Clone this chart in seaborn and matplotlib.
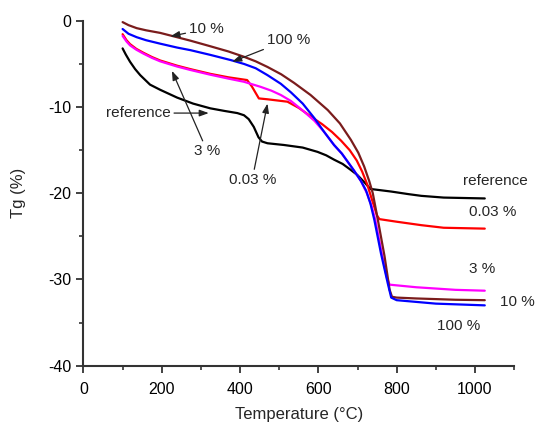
import matplotlib
matplotlib.use("Agg")
import matplotlib.pyplot as plt
from matplotlib.ticker import MultipleLocator
import pandas as pd
import seaborn as sns

# curves: temperature (°C) and Tg (%)
ref_t = [100, 108, 119, 132, 145, 170, 196, 239, 280, 324, 360, 393, 410, 422, 435, 447, 456, 470, 512, 560, 598, 620, 640, 662, 683, 700, 717, 733, 786, 830, 863, 920, 1025]
ref_v = [-3.2, -3.9, -4.75, -5.6, -6.3, -7.4, -8.0, -8.9, -9.6, -10.15, -10.45, -10.7, -10.95, -11.4, -12.3, -13.5, -14.0, -14.2, -14.4, -14.7, -15.2, -15.6, -16.1, -16.6, -17.3, -17.9, -18.7, -19.5, -19.8, -20.1, -20.3, -20.5, -20.6]

p003_t = [100, 110, 119, 135, 153, 175, 196, 239, 273, 324, 370, 418, 430, 448, 470, 521, 550, 581, 610, 635, 658, 680, 698, 712, 725, 738, 750, 756, 800, 863, 920, 1025]
p003_v = [-1.55, -2.25, -2.7, -3.25, -3.7, -4.2, -4.6, -5.2, -5.6, -6.15, -6.55, -6.87, -7.6, -9.0, -9.1, -9.38, -10.1, -11.1, -12.0, -12.9, -13.9, -15.0, -16.2, -17.5, -19.0, -20.9, -22.6, -23.0, -23.3, -23.7, -24.0, -24.1]

p3_t = [100, 110, 119, 135, 153, 175, 196, 239, 273, 324, 370, 410, 452, 480, 504, 530, 560, 590, 615, 640, 660, 690, 709, 724, 736, 745, 762, 775, 782, 850, 950, 1025]
p3_v = [-1.75, -2.4, -2.85, -3.35, -3.8, -4.3, -4.7, -5.3, -5.7, -6.25, -6.7, -7.07, -7.65, -8.1, -8.6, -9.3, -10.4, -11.6, -12.9, -14.4, -15.4, -17.3, -18.6, -20.0, -21.5, -23.0, -27.0, -29.8, -30.6, -30.9, -31.2, -31.3]

p10_t = [100, 115, 136, 160, 196, 239, 273, 324, 370, 410, 440, 470, 505, 538, 580, 624, 655, 683, 702, 717, 730, 739, 752, 769, 782, 788, 800, 850, 950, 1025]
p10_v = [-0.15, -0.5, -0.85, -1.1, -1.4, -1.9, -2.3, -2.95, -3.55, -4.17, -4.7, -5.35, -6.2, -7.2, -8.6, -10.35, -11.9, -13.8, -15.3, -16.9, -18.6, -20.0, -23.1, -27.3, -31.2, -32.0, -32.1, -32.2, -32.35, -32.4]

p100_t = [100, 115, 136, 160, 196, 239, 273, 324, 376, 410, 440, 470, 504, 530, 560, 590, 615, 640, 660, 690, 709, 722, 733, 743, 760, 777, 786, 800, 900, 1025]
p100_v = [-0.95, -1.5, -1.9, -2.25, -2.65, -3.1, -3.4, -3.95, -4.55, -5.0, -5.5, -6.3, -7.3, -8.3, -9.6, -11.3, -12.9, -14.4, -15.4, -17.3, -18.6, -19.7, -21.2, -23.1, -27.0, -30.4, -32.1, -32.4, -32.8, -33.0]

series = {
    "reference": (ref_t, ref_v),
    "0.03 %": (p003_t, p003_v),
    "3 %": (p3_t, p3_v),
    "10 %": (p10_t, p10_v),
    "100 %": (p100_t, p100_v),
}
colors = {"reference": "black", "0.03 %": "#ff0000", "3 %": "#ff00ff",
          "10 %": "#7a1c1c", "100 %": "#0000ff"}

rows = []
for name, (ts, vs) in series.items():
    for t, v in zip(ts, vs):
        rows.append((name, t, v))
df = pd.DataFrame(rows, columns=["sample", "T", "Tg"])

sns.set_style("ticks")
plt.rcParams["font.family"] = ["Liberation Sans", "DejaVu Sans"]

fig = plt.figure(figsize=(5.35, 4.25), dpi=100)
ax = fig.add_axes([0.156, 0.1395, 0.805, 0.8115])

sns.lineplot(data=df, x="T", y="Tg", hue="sample", palette=colors,
             estimator=None, sort=False, linewidth=1.6, legend=False, ax=ax)

ax.set_xlim(0, 1100)
ax.set_ylim(-40, 0)
ax.xaxis.set_minor_locator(MultipleLocator(100))
ax.yaxis.set_minor_locator(MultipleLocator(5))
ax.set_xticks([0, 200, 400, 600, 800, 1000])
ax.set_yticks([0, -10, -20, -30, -40])
ax.set_yticklabels(["0", "-10", "-20", "-30", "-40"])
ax.tick_params(which="major", direction="out", length=5, width=1.3, labelsize=11.5, colors="#333333", labelcolor="black")
ax.tick_params(axis="x", which="major", pad=7)
ax.tick_params(which="minor", direction="out", length=3, width=1.2, colors="#333333")
sns.despine(ax=ax)
for s in ("left", "bottom"):
    ax.spines[s].set_linewidth(1.5)
    ax.spines[s].set_color("#333333")

ax.set_xlabel("Temperature (°C)", fontsize=12, labelpad=7)
ax.set_ylabel("Tg (%)", fontsize=12, labelpad=16)

arrow = dict(arrowstyle="-|>,head_length=0.5,head_width=0.18", color="#222222", lw=0.9, shrinkA=0, shrinkB=0)
fs = 11
ax.annotate("10 %", xy=(222, -1.8), xytext=(269, -0.95), fontsize=fs, ha="left", va="center", arrowprops=arrow)
ax.annotate("100 %", xy=(380, -4.75), xytext=(468, -3.0), fontsize=fs, ha="left", va="bottom", arrowprops=arrow)
ax.annotate("reference", xy=(320, -10.7), xytext=(223, -10.7), fontsize=fs, ha="right", va="center", arrowprops=arrow)
ax.annotate("3 %", xy=(226, -5.8), xytext=(316, -14.3), fontsize=fs, ha="center", va="top", arrowprops=arrow)
ax.annotate("0.03 %", xy=(470, -9.6), xytext=(431, -17.6), fontsize=fs, ha="center", va="top", arrowprops=arrow)

ax.text(1052, -18.6, "reference", fontsize=fs, ha="center", va="center")
ax.text(1045, -22.2, "0.03 %", fontsize=fs, ha="center", va="center")
ax.text(1019, -28.8, "3 %", fontsize=fs, ha="center", va="center")
ax.text(1063, -32.65, "10 %", fontsize=fs, ha="left", va="center", clip_on=False)
ax.text(957, -35.4, "100 %", fontsize=fs, ha="center", va="center")

fig.savefig("out.png", dpi=100)
